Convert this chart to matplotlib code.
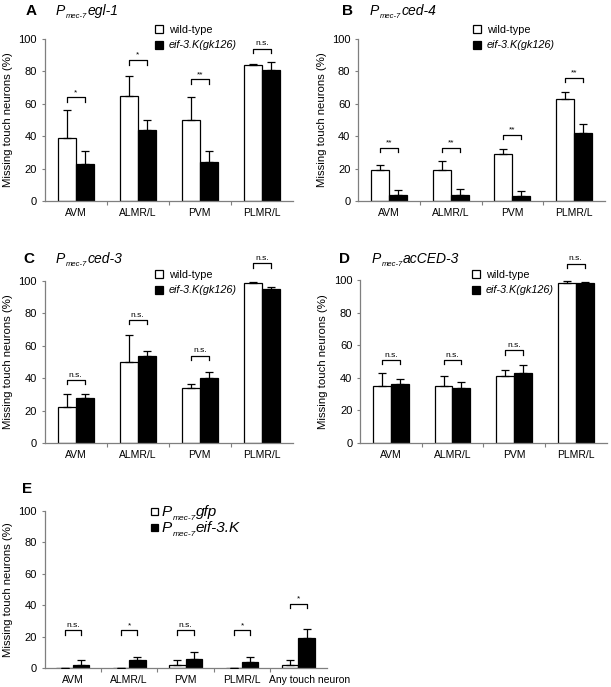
import matplotlib
matplotlib.use("Agg")
import matplotlib.pyplot as plt
from matplotlib.patches import Patch, Rectangle
import numpy as np

plt.rcParams['font.family'] = ['Liberation Sans', 'DejaVu Sans']

# ---------------- data ----------------
cats4 = ["AVM", "ALMR/L", "PVM", "PLMR/L"]
cats5 = ["AVM", "ALMR/L", "PVM", "PLMR/L", "Any touch neuron"]

a_wt = [39, 65, 50, 84]
a_wt_err = [17, 12, 14, 0.5]
a_mut = [23, 44, 24, 81]
a_mut_err = [8, 6, 7, 5]
a_sig = ["*", "*", "**", "n.s."]
a_sig_y = [64, 87, 75, 94]

b_wt = [19, 19, 29, 63]
b_wt_err = [3, 5.5, 3, 4]
b_mut = [4, 4, 3, 42]
b_mut_err = [2.5, 3.5, 3, 5.5]
b_sig = ["**", "**", "**", "**"]
b_sig_y = [33, 33, 41, 76]

c_wt = [22, 50, 34, 99]
c_wt_err = [8, 16.5, 2.5, 0.5]
c_mut = [28, 54, 40, 95]
c_mut_err = [2, 3, 4, 1]
c_sig = ["n.s.", "n.s.", "n.s.", "n.s."]
c_sig_y = [39, 76, 54, 111]

d_wt = [35, 35, 41, 98]
d_wt_err = [8, 6, 3.5, 1.5]
d_mut = [36, 34, 43, 98]
d_mut_err = [3, 3.5, 5, 1]
d_sig = ["n.s.", "n.s.", "n.s.", "n.s."]
d_sig_y = [51, 51, 57, 110]

e_gfp = [0, 0, 2, 0, 2]
e_gfp_err = [0, 0, 3, 0, 3]
e_eif = [2, 5, 6, 4, 19]
e_eif_err = [3, 2, 4, 3, 6]
e_sig = ["n.s.", "*", "n.s.", "*", "*"]
e_sig_y = [24, 24, 24, 24, 41]

FW, FH = 611, 687
fig = plt.figure(figsize=(FW / 100, FH / 100), dpi=100)
renderer = fig.canvas.get_renderer()

AX_COL = '#7f7f7f'


def make_ax(l, r, t, b):
    return fig.add_axes([l / FW, 1 - b / FH, (r - l) / FW, (b - t) / FH])


def panel(ax, cats, wt, wt_err, mut, mut_err, sig, sig_y, last_shift=None):
    n = len(cats)
    x = np.arange(n)
    w = 0.29
    ax.bar(x - w / 2, wt, w, color='white', edgecolor='black', linewidth=0.9, zorder=2)
    ax.bar(x + w / 2, mut, w, color='black', edgecolor='black', linewidth=0.9, zorder=2)
    ax.errorbar(x - w / 2, wt, yerr=[np.zeros(n), wt_err], fmt='none', ecolor='black',
                elinewidth=0.9, capsize=3, capthick=0.9, zorder=3)
    ax.errorbar(x + w / 2, mut, yerr=[np.zeros(n), mut_err], fmt='none', ecolor='black',
                elinewidth=0.9, capsize=3, capthick=0.9, zorder=3)
    for xi, s, y in zip(x, sig, sig_y):
        x0, x1 = xi - w / 2, xi + w / 2
        ax.plot([x0, x0, x1, x1], [y - 2.8, y, y, y - 2.8], color='black', lw=0.9,
                clip_on=False, zorder=3)
        ax.text(xi, y + 0.8, s, ha='center', va='bottom', fontsize=6, clip_on=False)
    ax.set_xlim(-0.5, n - 0.5)
    ax.set_ylim(0, 100)
    ax.set_yticks([0, 20, 40, 60, 80, 100])
    ax.set_xticks(x)
    labels = list(cats)
    if last_shift is not None:
        labels[-1] = ""
        ax.annotate(cats[-1], xy=(x[-1], 0), xycoords=('data', 'axes fraction'),
                    xytext=(last_shift, -5), textcoords='offset points',
                    ha='center', va='top', fontsize=7.5)
    ax.set_xticklabels(labels, fontsize=7.5)
    ax.set_xticks(np.arange(n - 1) + 0.5, minor=True)
    ax.tick_params(axis='x', which='major', length=0, pad=5)
    ax.tick_params(axis='x', which='minor', length=3, width=0.8, color=AX_COL, direction='out')
    ax.tick_params(axis='y', length=2.5, width=0.8, color=AX_COL, labelsize=8, pad=3)
    for sp in ['top', 'right']:
        ax.spines[sp].set_visible(False)
    for sp in ['left', 'bottom']:
        ax.spines[sp].set_color(AX_COL)
        ax.spines[sp].set_linewidth(0.9)
    ax.set_ylabel("Missing touch neurons (%)", fontsize=8.2)
    wpx = ax.get_position().width * FW
    ax.yaxis.set_label_coords(-31.5 / wpx, 0.5)


def legend(ax, labels, x_px, y_px, fs=7.8, spacing=0.5, hl=0.75):
    handles = [Patch(facecolor='white', edgecolor='black', linewidth=0.9),
               Patch(facecolor='black', edgecolor='black', linewidth=0.9)]
    lg = ax.legend(handles, labels, loc='upper left', frameon=False,
                   bbox_to_anchor=(x_px / FW, 1 - y_px / FH), bbox_transform=fig.transFigure,
                   handlelength=hl, handleheight=hl, handletextpad=0.5,
                   labelspacing=spacing, borderaxespad=0, borderpad=0, fontsize=fs)
    lg.get_texts()[1].set_style('italic')
    return lg


def rich(x_px, base_px, main, fs=10, sub="mec-7", rest=""):
    """Italic 'P' with a lowered small subscript, followed by italic text."""
    x = x_px
    for txt, size, dy in [(main, fs, 0), (sub, fs * 0.55, 3.5), (rest, fs, 0)]:
        if not txt:
            continue
        t = fig.text(x / FW, 1 - (base_px + dy) / FH, txt, fontsize=size, style='italic',
                     va='baseline', ha='left')
        bb = t.get_window_extent(renderer)
        x = bb.x1 + 0.3
    return x


def title(letter, lx, tx, y, rest):
    fig.text(lx / FW, 1 - y / FH, letter, fontsize=11, fontweight='bold', va='center', ha='left')
    rich(tx, y + 4, "P", fs=10, rest=rest)


axA = make_ax(44.5, 293, 39, 201)
panel(axA, cats4, a_wt, a_wt_err, a_mut, a_mut_err, a_sig, a_sig_y)
legend(axA, ["wild-type", "eif-3.K(gk126)"], 155, 25)
title("A", 26, 56, 11, "egl-1")

axB = make_ax(358, 605, 39, 201)
panel(axB, cats4, b_wt, b_wt_err, b_mut, b_mut_err, b_sig, b_sig_y)
legend(axB, ["wild-type", "eif-3.K(gk126)"], 473, 25)
title("B", 342, 370, 11, "ced-4")

axC = make_ax(44.5, 293, 281, 443)
panel(axC, cats4, c_wt, c_wt_err, c_mut, c_mut_err, c_sig, c_sig_y)
legend(axC, ["wild-type", "eif-3.K(gk126)"], 155, 270)
title("C", 23, 56, 259, "ced-3")

axD = make_ax(360, 606.5, 280, 443)
panel(axD, cats4, d_wt, d_wt_err, d_mut, d_mut_err, d_sig, d_sig_y)
legend(axD, ["wild-type", "eif-3.K(gk126)"], 472, 270)
title("D", 339, 372, 259, "acCED-3")

axE = make_ax(44.5, 326.7, 511, 668)
panel(axE, cats5, e_gfp, e_gfp_err, e_eif, e_eif_err, e_sig, e_sig_y, last_shift=8)
# legend of panel E (rich labels)
e_labels = ["gfp", "eif-3.K"]
for i, (fc, lab) in enumerate(zip(['white', 'black'], e_labels)):
    cy = 511 + 16 * i
    fig.add_artist(Rectangle(((151) / FW, 1 - (cy + 3.5) / FH), 7 / FW, 7 / FH,
                             facecolor=fc, edgecolor='black', linewidth=0.9,
                             transform=fig.transFigure))
    rich(162, cy + 5, "P", fs=11, rest=lab)
fig.text(22 / FW, 1 - 489 / FH, "E", fontsize=11, fontweight='bold', va='center', ha='left')

fig.savefig("out.png", dpi=100)
